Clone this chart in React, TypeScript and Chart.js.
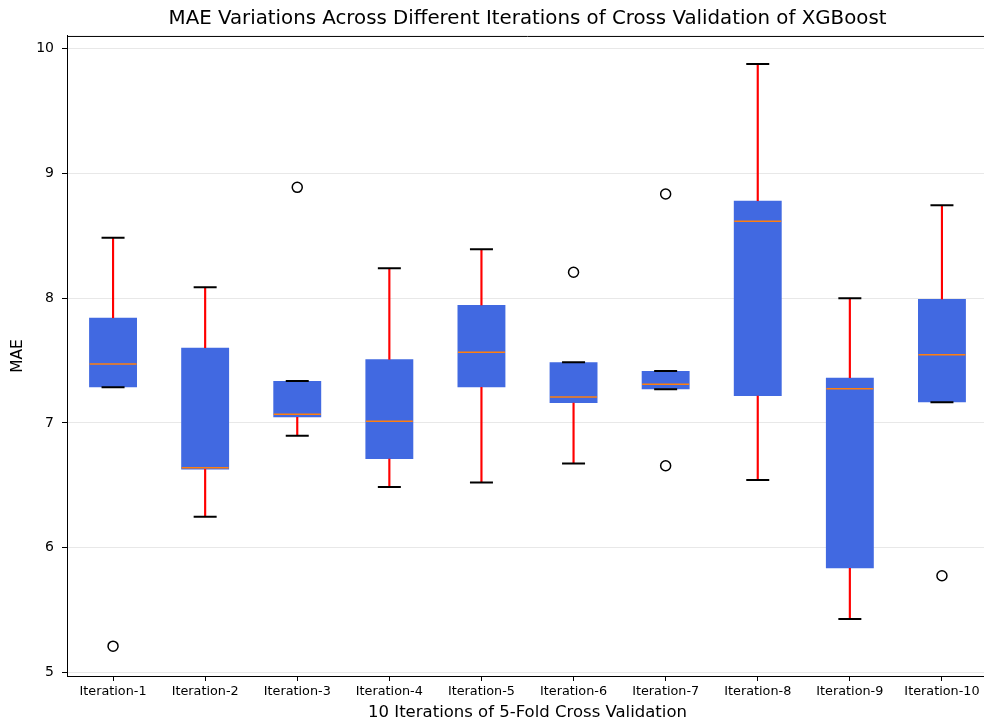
import React, { useEffect, useRef } from 'react';
import { Chart, registerables } from 'chart.js';

Chart.register(...registerables);

// Five-number summaries of MAE per cross-validation iteration
const CATEGORIES = [
  'Iteration-1', 'Iteration-2', 'Iteration-3', 'Iteration-4', 'Iteration-5',
  'Iteration-6', 'Iteration-7', 'Iteration-8', 'Iteration-9', 'Iteration-10',
];
const WHISKER_LOW = [7.285, 6.249, 6.898, 6.487, 6.524, 6.676, 7.269, 6.543, 5.43, 7.165];
const Q1 = [7.285, 6.628, 7.045, 6.711, 7.285, 7.159, 7.269, 7.215, 5.836, 7.165];
const MEDIAN = [7.472, 6.641, 7.069, 7.013, 7.565, 7.207, 7.309, 8.614, 7.274, 7.546];
const Q3 = [7.842, 7.602, 7.336, 7.509, 7.944, 7.485, 7.416, 8.779, 7.362, 7.992];
const WHISKER_HIGH = [8.483, 8.086, 7.336, 8.238, 8.39, 7.485, 7.416, 9.874, 7.998, 8.742];
const OUTLIERS: number[][] = [[5.213], [], [8.886], [], [], [8.206], [8.833, 6.657], [], [], [5.777]];
const Y_TICKS = [5, 6, 7, 8, 9, 10];

const TITLE = 'MAE Variations Across Different Iterations of Cross Validation of XGBoost';
const X_TITLE = '10 Iterations of 5-Fold Cross Validation';
const Y_TITLE = 'MAE';

const FONT = 'DejaVu Sans';
const BOX_COLOR = '#4169E1';
const WHISKER_COLOR = '#ff0000';
const MEDIAN_COLOR = '#ff7f0e';
const CAP_COLOR = '#000000';

const CANVAS_W = 1000;
const CANVAS_H = 723;

// Closes the axes frame on the top and right sides
const framePlugin = {
  id: 'frame',
  afterDatasetsDraw(chart: any) {
    const { ctx, chartArea } = chart;
    ctx.save();
    ctx.strokeStyle = '#000';
    ctx.lineWidth = 1;
    ctx.beginPath();
    ctx.moveTo(chartArea.left, chartArea.top + 0.5);
    ctx.lineTo(chartArea.right, chartArea.top + 0.5);
    ctx.moveTo(chartArea.right - 0.5, chartArea.top);
    ctx.lineTo(chartArea.right - 0.5, chartArea.bottom);
    ctx.stroke();
    ctx.restore();
  },
};

export default function App() {
  const canvasRef = useRef<HTMLCanvasElement | null>(null);

  useEffect(() => {
    const canvas = canvasRef.current;
    if (!canvas) return;

    const boxes = CATEGORIES.map((_, i) => [Q1[i], Q3[i]]);
    const upper = CATEGORIES.map((_, i) => [Q3[i], WHISKER_HIGH[i]]);
    const lower = CATEGORIES.map((_, i) => [WHISKER_LOW[i], Q1[i]]);
    const caps = [
      ...CATEGORIES.map((c, i) => ({ x: c, y: WHISKER_HIGH[i] })),
      ...CATEGORIES.map((c, i) => ({ x: c, y: WHISKER_LOW[i] })),
    ];
    const medians = CATEGORIES.map((c, i) => ({ x: c, y: MEDIAN[i] }));
    const fliers = CATEGORIES.flatMap((c, i) => OUTLIERS[i].map((v) => ({ x: c, y: v })));

    const chart = new Chart(canvas, {
      type: 'bar',
      data: {
        labels: CATEGORIES,
        datasets: [
          {
            type: 'bar',
            label: 'box',
            data: boxes as any,
            backgroundColor: BOX_COLOR,
            borderWidth: 0,
            barPercentage: 0.52,
            categoryPercentage: 1,
            grouped: false,
            order: 5,
          },
          {
            type: 'bar',
            label: 'upper whisker',
            data: upper as any,
            backgroundColor: WHISKER_COLOR,
            borderWidth: 0,
            barThickness: 1.5,
            grouped: false,
            order: 4,
          },
          {
            type: 'bar',
            label: 'lower whisker',
            data: lower as any,
            backgroundColor: WHISKER_COLOR,
            borderWidth: 0,
            barThickness: 1.5,
            grouped: false,
            order: 4,
          },
          {
            type: 'line',
            label: 'caps',
            data: caps as any,
            showLine: false,
            pointStyle: 'line',
            pointRadius: 11.5,
            pointHoverRadius: 11.5,
            pointBorderColor: CAP_COLOR,
            pointBorderWidth: 2,
            order: 3,
          },
          {
            type: 'line',
            label: 'median',
            data: medians as any,
            showLine: false,
            pointStyle: 'line',
            pointRadius: 23.5,
            pointHoverRadius: 23.5,
            pointBorderColor: MEDIAN_COLOR,
            pointBorderWidth: 1.5,
            order: 2,
          },
          {
            type: 'line',
            label: 'fliers',
            data: fliers as any,
            showLine: false,
            pointStyle: 'circle',
            pointRadius: 5,
            pointHoverRadius: 5,
            pointBorderColor: '#000',
            pointBackgroundColor: 'rgba(0,0,0,0)',
            pointBorderWidth: 1.5,
            order: 1,
          },
        ],
      },
      options: {
        animation: false,
        responsive: false,
        maintainAspectRatio: false,
        devicePixelRatio: 1,
        layout: { autoPadding: false, padding: { left: 0, top: 0, right: 12, bottom: 0 } },
        plugins: {
          legend: { display: false },
          tooltip: { enabled: false },
          title: {
            display: true,
            fullSize: false,
            text: TITLE,
            color: '#000',
            font: { family: FONT, size: 19.8, weight: 'normal' },
            padding: { top: 7, bottom: 5.2 },
          },
        },
        scales: {
          x: {
            type: 'category',
            offset: true,
            grid: {
              display: true,
              drawOnChartArea: false,
              offset: false,
              tickLength: 5,
              tickColor: '#000',
              tickWidth: 1,
            },
            border: { display: true, color: '#000', width: 1 },
            ticks: {
              color: '#000',
              font: { family: FONT, size: 12.8 },
              padding: 3,
              maxRotation: 0,
              autoSkip: false,
            },
            title: {
              display: true,
              text: X_TITLE,
              color: '#000',
              font: { family: FONT, size: 16.5 },
              padding: { top: 4, bottom: 0 },
            },
            afterFit: (s: any) => {
              s.height = 47;
              s.paddingLeft = 0;
              s.paddingRight = 0;
            },
          },
          y: {
            type: 'linear',
            min: 4.974,
            max: 10.098,
            afterBuildTicks: (s: any) => {
              s.ticks = Y_TICKS.map((v) => ({ value: v }));
            },
            grid: {
              color: '#e8e8e8',
              lineWidth: 1,
              tickLength: 5,
              tickColor: '#000',
              tickWidth: 1,
            },
            border: { display: true, color: '#000', width: 1 },
            ticks: {
              color: '#000',
              font: { family: FONT, size: 14 },
              padding: 8,
            },
            title: {
              display: true,
              text: Y_TITLE,
              color: '#000',
              font: { family: FONT, size: 15.5 },
              padding: { top: 9, bottom: 0 },
            },
            afterFit: (s: any) => {
              s.width = 67;
              s.paddingTop = 0;
              s.paddingBottom = 0;
            },
          },
        },
      },
      plugins: [framePlugin],
    });

    return () => chart.destroy();
  }, []);

  return (
    <div
      style={{
        position: 'fixed',
        left: 0,
        top: 0,
        width: 984,
        height: 723,
        overflow: 'hidden',
        background: '#fff',
      }}
    >
      <div style={{ width: CANVAS_W, height: CANVAS_H }}>
        <canvas ref={canvasRef} width={CANVAS_W} height={CANVAS_H} />
      </div>
    </div>
  );
}
